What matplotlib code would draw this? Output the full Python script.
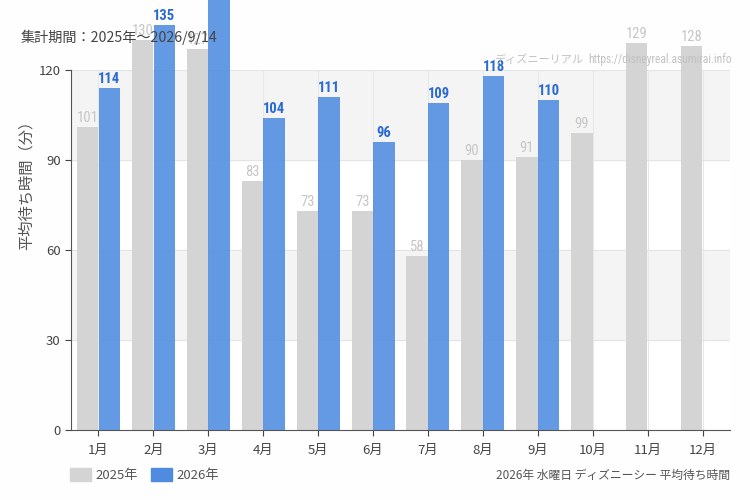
import matplotlib
matplotlib.use("Agg")
import matplotlib.pyplot as plt
from matplotlib.patches import Patch

plt.rcParams['font.family'] = ['Noto Sans CJK JP', 'DejaVu Sans']
num_font = ["Roboto Condensed", "Roboto", "DejaVu Sans"]

months = ["1月", "2月", "3月", "4月", "5月", "6月", "7月", "8月", "9月", "10月", "11月", "12月"]
wait_2025 = [101, 130, 127, 83, 73, 73, 58, 90, 91, 99, 129, 128]
wait_2026 = [114, 135, 152, 104, 111, 96, 109, 118, 110]
yticks = [0, 30, 60, 90, 120]

grey = "#d4d4d4"
blue = "#4f8ce0"

fig = plt.figure(figsize=(7.5, 5), dpi=100)
fig.patch.set_facecolor("#fdfefd")
ax = fig.add_axes([0.0947, 0.14, 0.8786, 0.72])
ax.set_facecolor("white")

# background bands
for lo in (30, 90):
    ax.axhspan(lo, lo + 30, color="#f4f4f4", zorder=0)
for y in yticks[1:]:
    ax.axhline(y, color="#e4e4e4", lw=0.8, zorder=0.5)
for i in range(len(months)):
    ax.axvline(i, color="#e8e8e8", lw=0.8, zorder=0.5)

w = 0.39
x1 = [i - 0.197 for i in range(len(wait_2025))]
x2 = [i + 0.197 for i in range(len(wait_2026))]
ax.bar(x1, wait_2025, width=w, color=grey, zorder=2, clip_on=False)
ax.bar(x2, wait_2026, width=w, color=blue, alpha=0.88, zorder=3, clip_on=False)

# labels above the top of the canvas are not visible anyway
for x, v in zip(x1, wait_2025):
    if v < 140:
        ax.text(x, v + 0.8, str(v), ha="center", va="bottom", color="#c6c6c6",
                fontsize=10.5, family=num_font, zorder=4, clip_on=False)
for x, v in zip(x2, wait_2026):
    if v < 140:
        ax.text(x, v + 0.8, str(v), ha="center", va="bottom", color="#2a6ad4",
                fontsize=10.5, fontweight="bold", family=num_font, zorder=4, clip_on=False)

ax.set_xlim(-0.5, len(months) - 0.5)
ax.set_ylim(0, 120)
ax.set_xticks(range(len(months)))
ax.set_xticklabels(months)
ax.set_yticks(yticks)
ax.tick_params(axis="both", colors="#444444", labelsize=9.5, length=4, width=0.8)
ax.tick_params(axis="x", pad=6)
for s in ("top", "right"):
    ax.spines[s].set_visible(False)
ax.spines["left"].set_color("#555555")
ax.spines["bottom"].set_color("#555555")
ax.spines["left"].set_zorder(5)
ax.spines["bottom"].set_zorder(5)

fig.text(0.035, 0.637, "平均待ち時間（分）", rotation=90, ha="center", va="center",
         fontsize=11, color="#555555")
fig.text(0.027, 0.926, "集計期間：2025年～2026/9/14", ha="left", va="center",
         fontsize=10.2, color="#444444", zorder=10)
fig.text(0.777, 0.88, "ディズニーリアル", ha="right", va="center",
         fontsize=8, color="#c2c2c2", zorder=10)
fig.text(0.784, 0.88, "https://disneyreal.asumirai.info", ha="left", va="center",
         fontsize=8.3, color="#c2c2c2", family=num_font, zorder=10)
fig.text(0.973, 0.05, "2026年 水曜日 ディズニーシー 平均待ち時間", ha="right", va="center",
         fontsize=8.5, color="#555555")

handles = [Patch(color=grey, label="2025年"), Patch(color=blue, label="2026年")]
fig.legend(handles=handles, loc="center left", bbox_to_anchor=(0.078, 0.05), ncol=2,
           frameon=False, fontsize=9.5, handlelength=1.6, handleheight=1.1,
           handletextpad=0.3, columnspacing=1.0, labelcolor="#555555")

fig.savefig("out.png", dpi=100, facecolor=fig.get_facecolor())
